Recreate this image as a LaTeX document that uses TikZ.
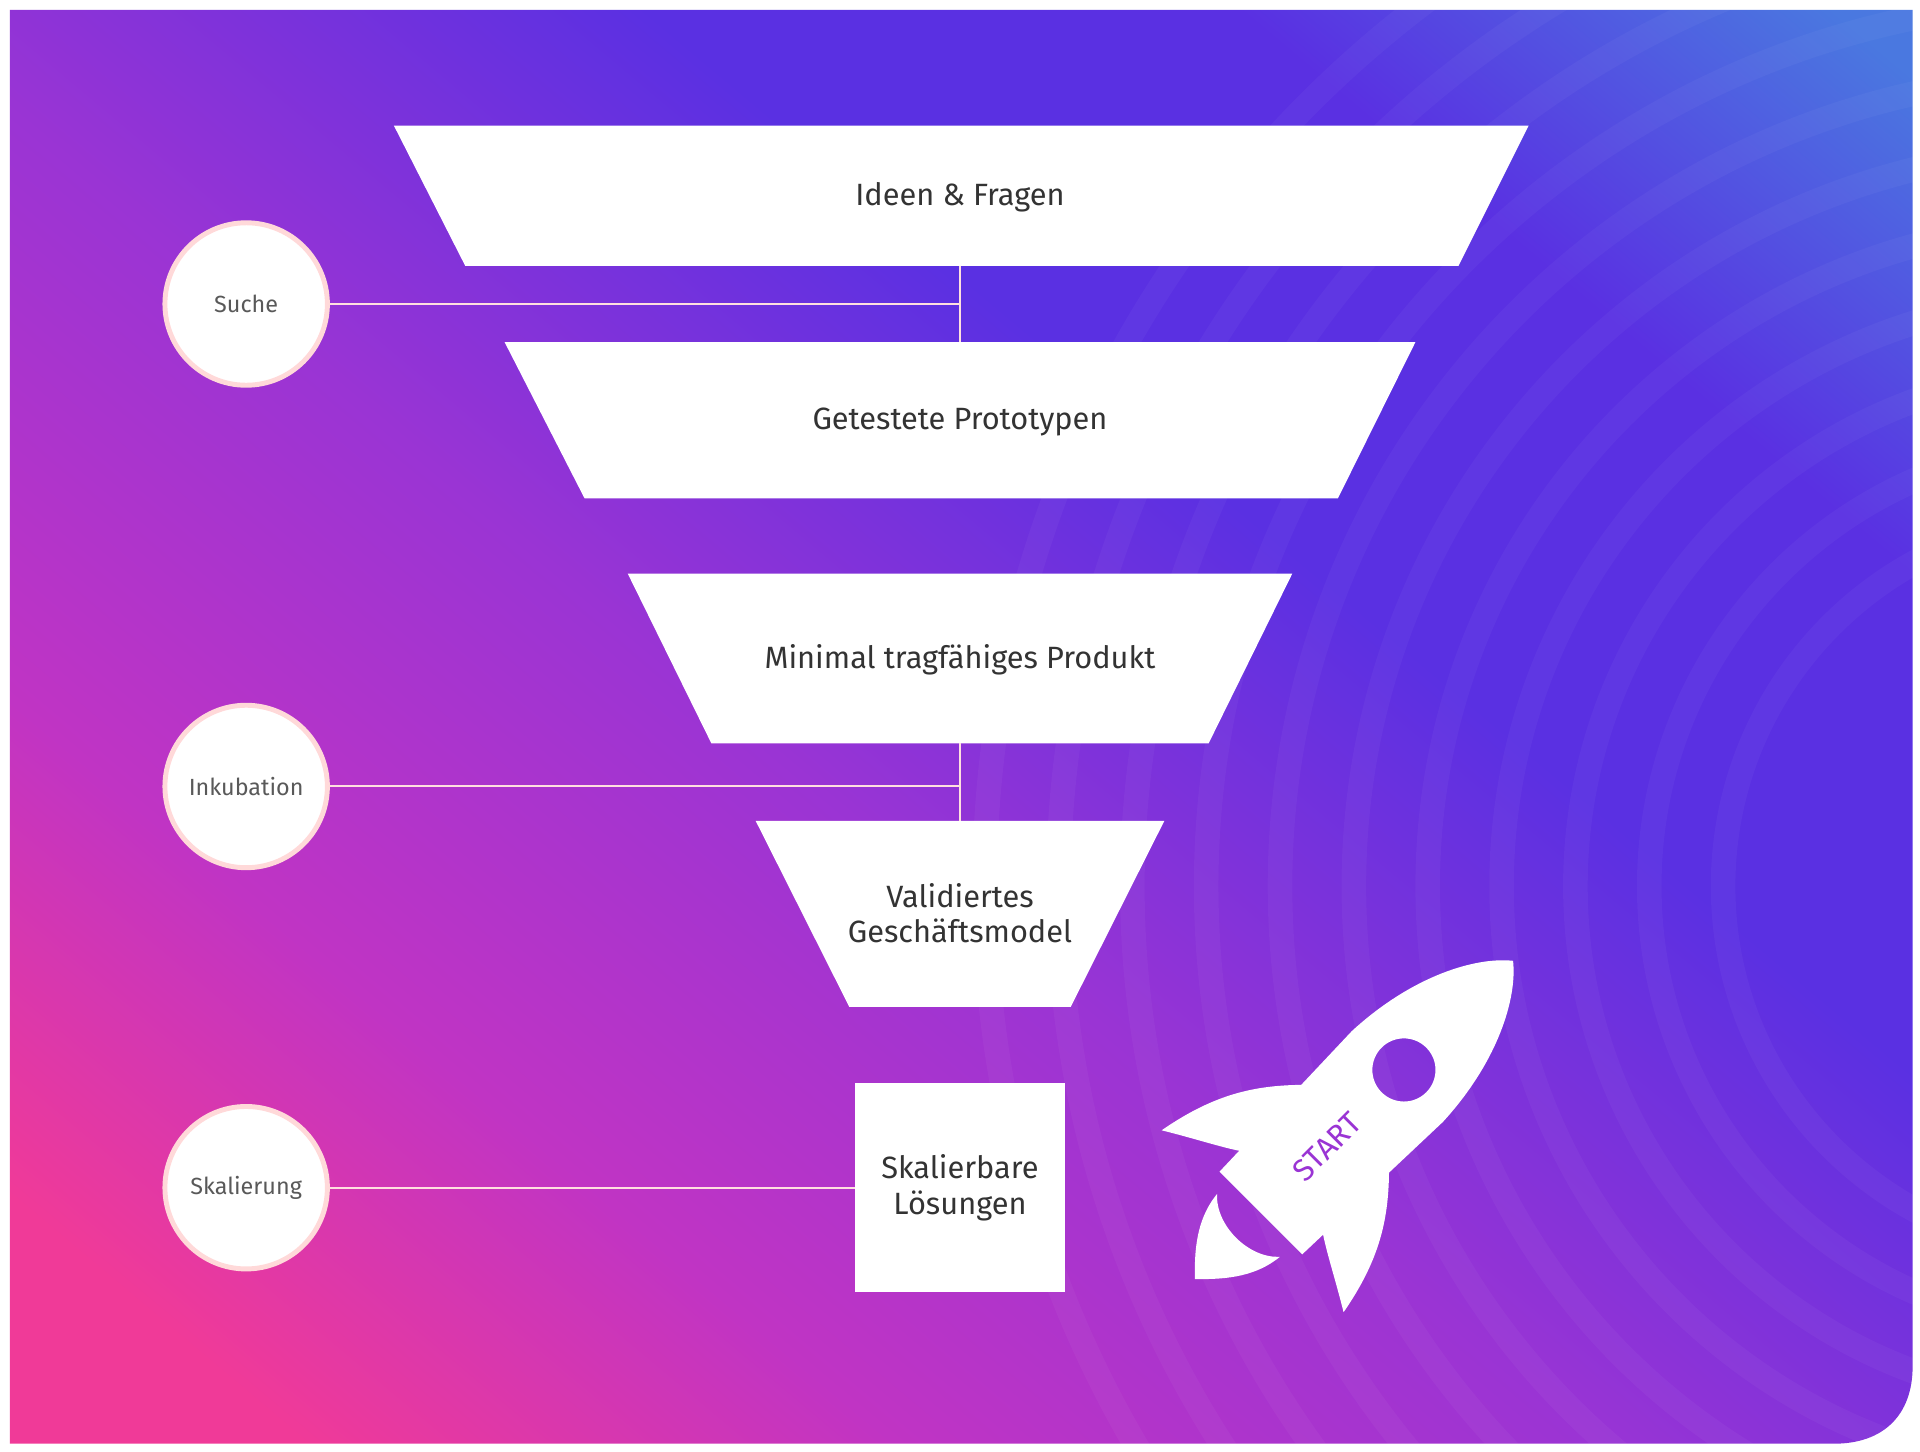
\documentclass[tikz,border=0pt]{standalone}
\usepackage{fontspec}
\setmainfont{Fira Sans}
\begin{document}
\begin{tikzpicture}[x=1pt,y=-1pt,
  trap/.style={fill=white,draw=none},
  lbl/.style={font=\fontsize{25}{31}\selectfont,text=black!80,align=center},
  stage/.style={circle,fill=white,draw=pink!60,line width=4pt,minimum size=132pt,inner sep=0pt,font=\fontsize{19}{22}\selectfont,text=black!65},
  conn/.style={draw=pink!50!white,line width=1.6pt}]
\definecolor{cpink}{HTML}{F03A98}
\definecolor{cmag}{HTML}{C034C4}
\definecolor{cpurp}{HTML}{9A34D4}
\definecolor{cviol}{HTML}{5A30E2}
\definecolor{cblue}{HTML}{4A78E0}
\useasboundingbox (0,0) rectangle (1560,1179);
\fill[white] (0,0) rectangle (1560,1179);
\begin{scope}
\clip (8,8) -- (1554,8) -- (1554,1110) .. controls (1554,1150) and (1530,1173) .. (1490,1173) -- (8,1173) -- cycle;
\pgfdeclarehorizontalshading{bg}{100bp}{color(0bp)=(cpink);color(22bp)=(cpink);color(33bp)=(cmag);color(46bp)=(cpurp);color(60bp)=(cviol);color(71bp)=(cviol);color(82bp)=(cblue);color(100bp)=(cblue)}
\shade[shading=bg,shading angle=50] (-30,-30) rectangle (1590,1210);
\foreach \r in {300,360,...,900}
  \draw[white,opacity=0.035,line width=20pt] (1700,720) circle (\r);
\end{scope}
% funnel
\path[trap] (320,102) -- (1242,102) -- (1185,216) -- (378,216) -- cycle;
\node[lbl] (t1) at (780,160) {Ideen \& Fragen};
\path[trap] (410,278) -- (1150,278) -- (1087,405) -- (475,405) -- cycle;
\node[lbl] (t2) at (780,343) {Getestete Prototypen};
\path[trap] (510,466) -- (1050,466) -- (982,604) -- (578,604) -- cycle;
\node[lbl] (t3) at (780,536) {Minimal tragfähiges Produkt};
\path[trap] (614,667) -- (946,667) -- (870,818) -- (690,818) -- cycle;
\node[lbl] (t4) at (780,742) {Validiertes\\[-2pt]Geschäftsmodel};
\node[fill=white,minimum width=170pt,minimum height=170pt,lbl] (t5) at (780,965) {Skalierbare\\[-2pt]Lösungen};
% stages
\node[stage] (s1) at (200,247) {Suche};
\node[stage] (s2) at (200,639) {Inkubation};
\node[stage] (s3) at (200,965) {Skalierung};
\coordinate (j1) at (780,247);
\coordinate (j2) at (780,639);
\coordinate (b1) at (780,216); \coordinate (e1) at (780,278);
\coordinate (b2) at (780,604); \coordinate (e2) at (780,667);
\draw[conn] (s1) -- (j1); \draw[conn] (b1) -- (e1);
\draw[conn] (s2) -- (j2); \draw[conn] (b2) -- (e2);
\draw[conn] (s3) -- (t5);
% rocket
\begin{scope}[shift={(1095,915)},x=0.95pt,y=0.95pt,rotate=45]
\fill[white,even odd rule] (-105,-50) -- (60,-55) .. controls (130,-52) and (180,-25) .. (200,0) .. controls (180,25) and (130,52) .. (60,55) -- (-105,50) -- cycle
  (68,0) circle (27);
\fill[white] (0,50) .. controls (-30,80) and (-60,100) .. (-115,110) .. controls (-100,85) and (-90,65) .. (-80,50) -- cycle;
\fill[white] (0,-50) .. controls (-30,-80) and (-60,-100) .. (-115,-110) .. controls (-100,-85) and (-90,-65) .. (-80,-50) -- cycle;
\fill[white] (-120,-38) .. controls (-150,-35) and (-170,-15) .. (-185,0) .. controls (-170,15) and (-150,35) .. (-120,38) .. controls (-140,20) and (-140,-20) .. (-120,-38) -- cycle;
\node[font=\fontsize{25}{28}\selectfont,text=cpurp,rotate=45,inner sep=0pt] (st) at (-25,0) {START};
\end{scope}
\end{tikzpicture}
\end{document}
